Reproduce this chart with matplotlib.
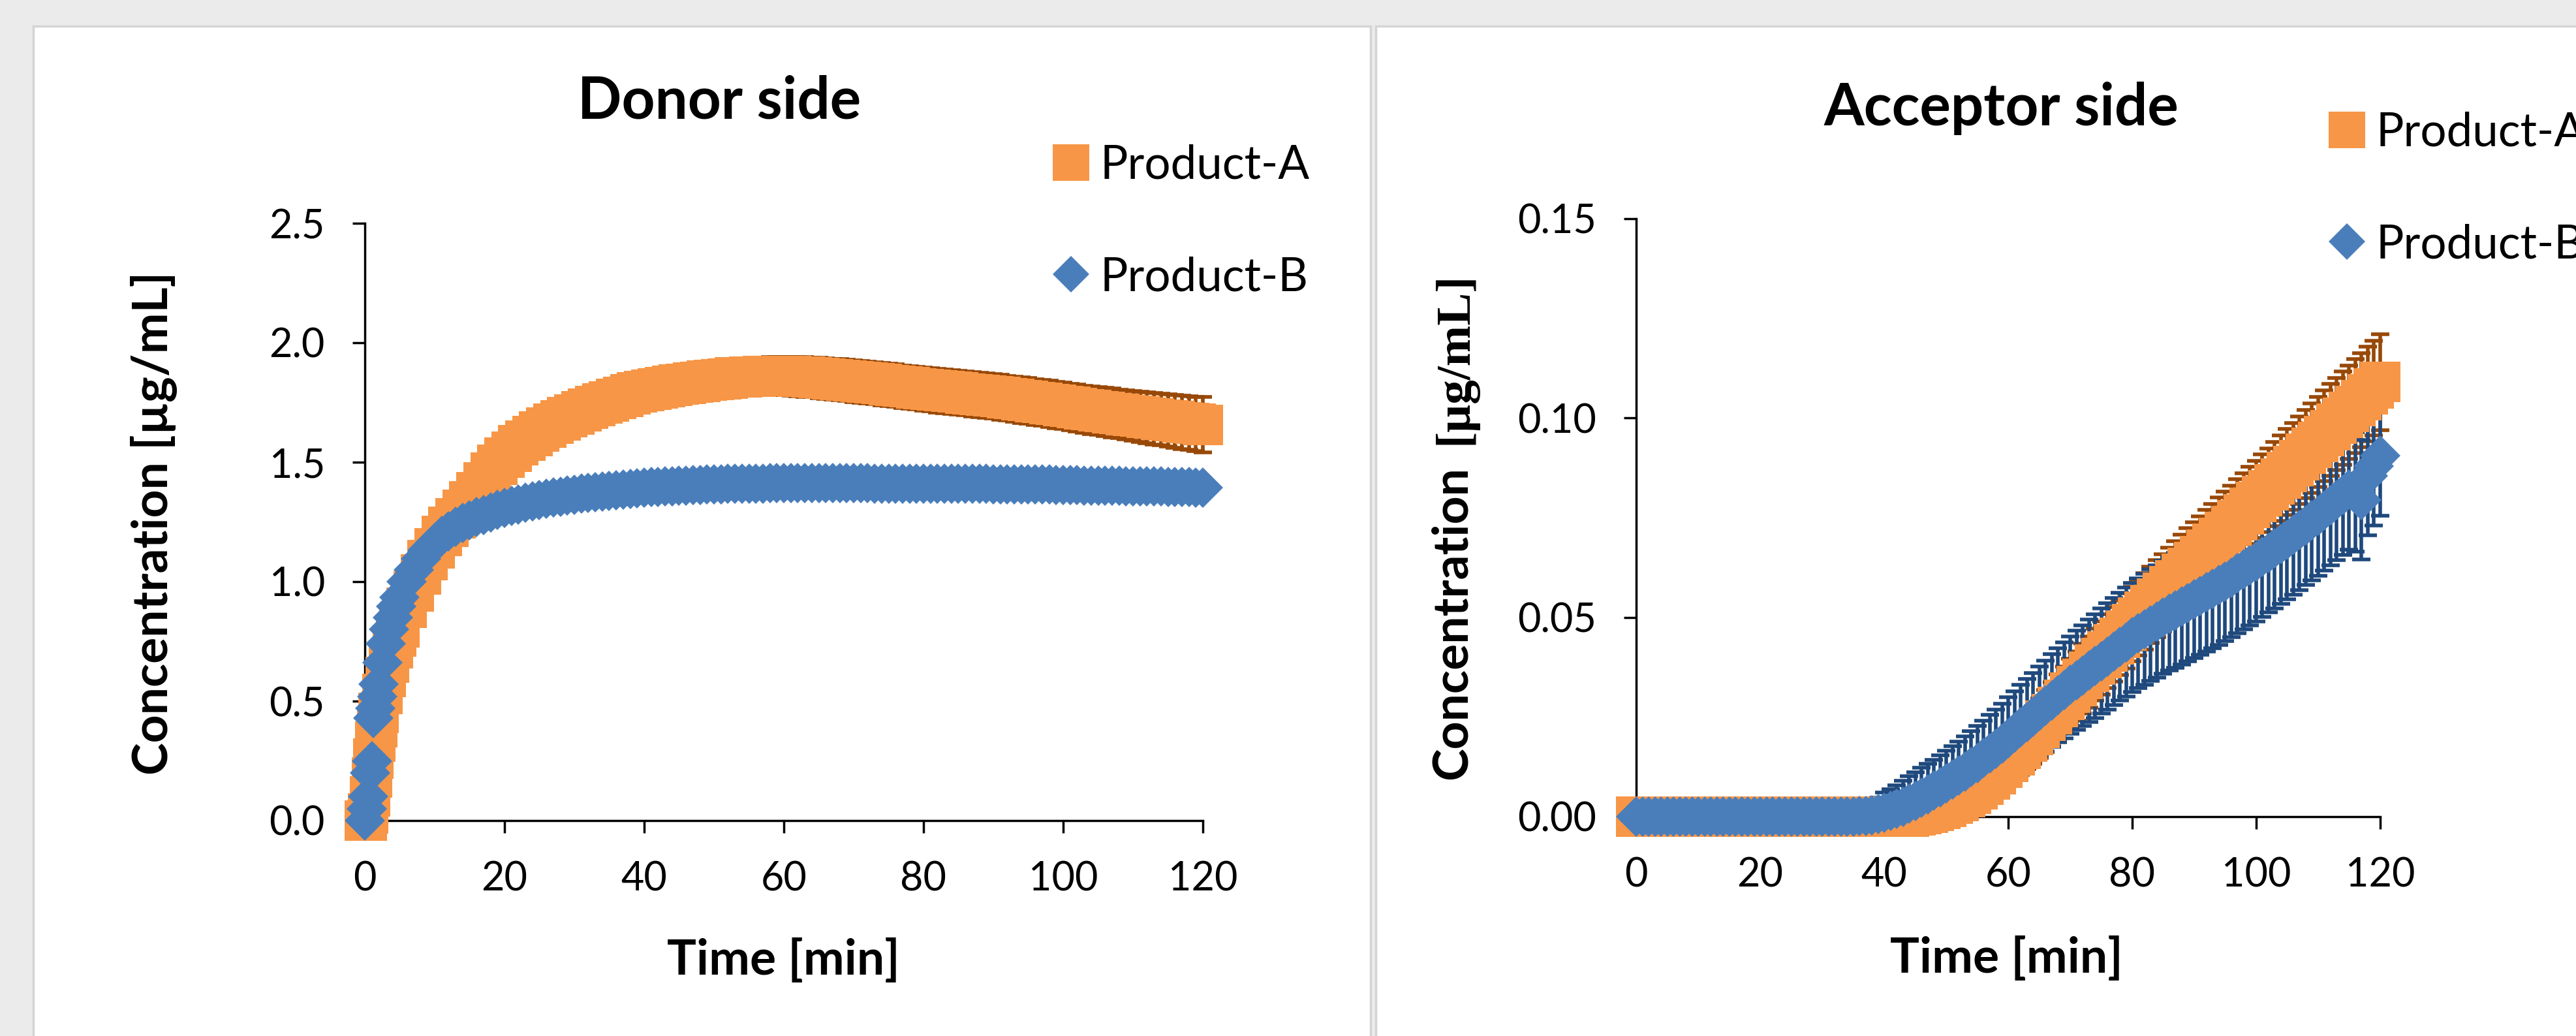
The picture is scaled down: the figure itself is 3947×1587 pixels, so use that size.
"""Donor / acceptor side concentration-time profiles for Product-A and Product-B."""
import matplotlib
matplotlib.use("Agg")
import matplotlib.pyplot as plt
import numpy as np
from matplotlib.patches import Rectangle
from matplotlib.ticker import FormatStrFormatter, MultipleLocator

W, H, DPI = 3948, 1587, 100

ORANGE = "#F79646"
ORANGE_DARK = "#984807"
BLUE = "#4A7EBB"
BLUE_DARK = "#1F497D"

plt.rcParams["font.family"] = ["Lato", "DejaVu Sans"]

# --- donor side [ug/mL]; finer sampling over the first five minutes ---
DONOR_TIME = [0, 0.25, 0.5, 0.75, 1, 1.25, 1.5, 1.75, 2, 2.5, 3, 3.5, 4, 4.5] + list(range(5, 121))
DONOR_A = [
    0.000, 0.000, 0.030, 0.100, 0.180, 0.260, 0.330, 0.390, 0.450, 0.530,
    0.600, 0.660, 0.720, 0.770,
    0.810, 0.890, 0.960, 1.030, 1.090,
    1.140, 1.190, 1.230, 1.265, 1.300, 1.335, 1.375, 1.415, 1.455, 1.490,
    1.520, 1.545, 1.570, 1.590, 1.610, 1.628, 1.645, 1.660, 1.675, 1.688,
    1.700, 1.712, 1.723, 1.734, 1.745, 1.755, 1.765, 1.774, 1.783, 1.791,
    1.798, 1.804, 1.810, 1.815, 1.820, 1.825, 1.829, 1.833, 1.837, 1.841,
    1.845, 1.848, 1.851, 1.854, 1.856, 1.858, 1.859, 1.860, 1.861, 1.861,
    1.861, 1.860, 1.859, 1.857, 1.855, 1.853, 1.850, 1.848, 1.845, 1.842,
    1.839, 1.836, 1.833, 1.830, 1.827, 1.823, 1.820, 1.816, 1.813, 1.810,
    1.806, 1.803, 1.800, 1.797, 1.794, 1.791, 1.788, 1.785, 1.782, 1.779,
    1.776, 1.772, 1.768, 1.764, 1.760, 1.756, 1.752, 1.748, 1.744, 1.740,
    1.736, 1.731, 1.727, 1.722, 1.718, 1.714, 1.710, 1.706, 1.702, 1.698,
    1.694, 1.690, 1.686, 1.682, 1.678, 1.675, 1.671, 1.667, 1.664, 1.660,
    1.656,
]
DONOR_A_SD = [
    0.000, 0.010, 0.015, 0.020, 0.020, 0.025, 0.025, 0.030, 0.030, 0.030,
    0.030, 0.030, 0.030, 0.035,
    0.035, 0.035, 0.040, 0.040, 0.040,
    0.045, 0.045, 0.045, 0.050, 0.050, 0.050, 0.050, 0.050, 0.055, 0.055,
    0.055, 0.055, 0.055, 0.055, 0.060, 0.060, 0.060, 0.060, 0.060, 0.060,
    0.060, 0.062, 0.062, 0.063, 0.063, 0.064, 0.064, 0.065, 0.065, 0.066,
    0.066, 0.067, 0.067, 0.068, 0.068, 0.069, 0.069, 0.070, 0.070, 0.071,
    0.071, 0.072, 0.073, 0.074, 0.075, 0.076, 0.077, 0.078, 0.079, 0.080,
    0.080, 0.081, 0.082, 0.083, 0.083, 0.084, 0.085, 0.085, 0.086, 0.086,
    0.087, 0.087, 0.088, 0.088, 0.088, 0.089, 0.089, 0.089, 0.090, 0.090,
    0.090, 0.091, 0.091, 0.091, 0.092, 0.092, 0.092, 0.093, 0.093, 0.093,
    0.094, 0.094, 0.094, 0.095, 0.095, 0.096, 0.096, 0.096, 0.097, 0.097,
    0.098, 0.098, 0.099, 0.099, 0.100, 0.100, 0.101, 0.102, 0.102, 0.103,
    0.104, 0.105, 0.106, 0.107, 0.108, 0.109, 0.110, 0.111, 0.112, 0.114,
    0.116,
]
DONOR_B = [
    0.000, 0.050, 0.100, 0.200, 0.250, 0.430, 0.470, 0.520, 0.570, 0.660,
    0.740, 0.800, 0.850, 0.895,
    0.935, 1.000, 1.050, 1.095, 1.130,
    1.160, 1.190, 1.210, 1.230, 1.245, 1.258, 1.270, 1.280, 1.290, 1.300,
    1.308, 1.316, 1.323, 1.330, 1.336, 1.342, 1.347, 1.352, 1.356, 1.360,
    1.364, 1.368, 1.371, 1.374, 1.377, 1.380, 1.383, 1.386, 1.388, 1.391,
    1.393, 1.395, 1.397, 1.399, 1.400, 1.402, 1.403, 1.404, 1.405, 1.406,
    1.407, 1.408, 1.409, 1.409, 1.410, 1.410, 1.411, 1.411, 1.412, 1.412,
    1.412, 1.412, 1.412, 1.412, 1.412, 1.412, 1.412, 1.412, 1.412, 1.412,
    1.412, 1.412, 1.412, 1.411, 1.411, 1.411, 1.411, 1.411, 1.411, 1.411,
    1.411, 1.410, 1.410, 1.410, 1.410, 1.410, 1.409, 1.409, 1.409, 1.409,
    1.408, 1.408, 1.408, 1.407, 1.407, 1.407, 1.406, 1.406, 1.406, 1.405,
    1.405, 1.404, 1.404, 1.403, 1.403, 1.402, 1.402, 1.401, 1.401, 1.400,
    1.400, 1.399, 1.399, 1.398, 1.398, 1.397, 1.396, 1.396, 1.395, 1.394,
    1.393,
]
DONOR_B_SD = [0.0] + [0.035] * 129

# --- acceptor side [ug/mL], one reading per minute ---
ACCEPTOR_TIME = list(range(0, 121))
ACCEPTOR_A = [0.0] * 45 + [
    0.0003, 0.0006, 0.0010, 0.0014, 0.0019,
    0.0025, 0.0032, 0.0040, 0.0049, 0.0058, 0.0068, 0.0080, 0.0093, 0.0107, 0.0122,
    0.0138, 0.0154, 0.0171, 0.0188, 0.0205, 0.0222, 0.0240, 0.0257, 0.0275, 0.0293,
    0.0311, 0.0328, 0.0346, 0.0363, 0.0381, 0.0398, 0.0415, 0.0432, 0.0449, 0.0466,
    0.0483, 0.0499, 0.0515, 0.0531, 0.0547, 0.0562, 0.0578, 0.0593, 0.0609, 0.0624,
    0.0639, 0.0654, 0.0669, 0.0684, 0.0699, 0.0714, 0.0729, 0.0744, 0.0759, 0.0774,
    0.0789, 0.0804, 0.0819, 0.0834, 0.0849, 0.0864, 0.0879, 0.0894, 0.0910, 0.0925,
    0.0940, 0.0955, 0.0970, 0.0985, 0.1000, 0.1015, 0.1030, 0.1045, 0.1060, 0.1075,
    0.1090,
]
ACCEPTOR_A_SD = [0.0] * 45 + [
    0.0010, 0.0013, 0.0016, 0.0020, 0.0023,
    0.0027, 0.0031, 0.0035, 0.0039, 0.0043, 0.0047, 0.0050, 0.0053, 0.0056, 0.0058,
    0.0060, 0.0063, 0.0066, 0.0069, 0.0072, 0.0075, 0.0078, 0.0080, 0.0082, 0.0084,
    0.0086, 0.0087, 0.0088, 0.0089, 0.0090, 0.0091, 0.0092, 0.0093, 0.0093, 0.0094,
    0.0094, 0.0095, 0.0095, 0.0096, 0.0096, 0.0097, 0.0097, 0.0098, 0.0098, 0.0099,
    0.0099, 0.0100, 0.0100, 0.0101, 0.0101, 0.0102, 0.0102, 0.0103, 0.0103, 0.0104,
    0.0104, 0.0105, 0.0105, 0.0106, 0.0107, 0.0108, 0.0109, 0.0110, 0.0111, 0.0112,
    0.0113, 0.0114, 0.0115, 0.0116, 0.0117, 0.0117, 0.0118, 0.0118, 0.0119, 0.0119,
    0.0120,
]
ACCEPTOR_B = [0.0] * 36 + [
    0.0001, 0.0002, 0.0004, 0.0007,
    0.0010, 0.0014, 0.0019, 0.0025, 0.0032, 0.0040, 0.0048, 0.0056, 0.0065, 0.0074,
    0.0083, 0.0093, 0.0103, 0.0113, 0.0124, 0.0135, 0.0147, 0.0159, 0.0171, 0.0184,
    0.0197, 0.0211, 0.0224, 0.0238, 0.0251, 0.0265, 0.0278, 0.0291, 0.0304, 0.0317,
    0.0330, 0.0342, 0.0354, 0.0366, 0.0378, 0.0390, 0.0402, 0.0414, 0.0426, 0.0438,
    0.0450, 0.0460, 0.0470, 0.0480, 0.0490, 0.0500, 0.0509, 0.0518, 0.0527, 0.0536,
    0.0545, 0.0554, 0.0563, 0.0572, 0.0581, 0.0590, 0.0600, 0.0610, 0.0620, 0.0630,
    0.0640, 0.0651, 0.0662, 0.0673, 0.0684, 0.0695, 0.0707, 0.0719, 0.0731, 0.0743,
    0.0755, 0.0768, 0.0781, 0.0794, 0.0807, 0.0820, 0.0815, 0.0795, 0.0855, 0.0880,
    0.0905,
]
ACCEPTOR_B_SD = [0.0] * 36 + [
    0.0010, 0.0020, 0.0030, 0.0040,
    0.0050, 0.0055, 0.0060, 0.0065, 0.0070, 0.0072, 0.0074, 0.0076, 0.0078, 0.0080,
    0.0082, 0.0084, 0.0086, 0.0088, 0.0090, 0.0092, 0.0094, 0.0096, 0.0098, 0.0100,
    0.0102, 0.0104, 0.0106, 0.0108, 0.0110, 0.0112, 0.0114, 0.0116, 0.0118, 0.0120,
    0.0122, 0.0124, 0.0126, 0.0128, 0.0130, 0.0132, 0.0133, 0.0134, 0.0135, 0.0136,
    0.0137, 0.0138, 0.0139, 0.0140, 0.0141, 0.0142, 0.0143, 0.0144, 0.0145, 0.0146,
    0.0147, 0.0148, 0.0149, 0.0150, 0.0150, 0.0150, 0.0150, 0.0150, 0.0150, 0.0150,
    0.0150, 0.0150, 0.0150, 0.0150, 0.0150, 0.0150, 0.0150, 0.0150, 0.0150, 0.0150,
    0.0150, 0.0150, 0.0150, 0.0150, 0.0150, 0.0150, 0.0150, 0.0150, 0.0150, 0.0150,
    0.0150,
]

SERIES_LABELS = ["Product-A", "Product-B"]
X_TICKS = [0, 20, 40, 60, 80, 100, 120]


def fx(px):
    return px / W


def fy(py):
    return 1 - py / H


def add_panel(fig, x0, x1):
    rect = Rectangle((fx(x0), -0.02), (x1 - x0) / W, fy(40) + 0.02,
                     transform=fig.transFigure, facecolor="white",
                     edgecolor="#D4D4D4", linewidth=2.5, zorder=-10)
    fig.add_artist(rect)


def draw_series(ax, t, a, a_sd, b, b_sd):
    for vals, sd, col in ((a, a_sd, ORANGE_DARK), (b, b_sd, BLUE_DARK)):
        eb = ax.errorbar(t, vals, yerr=sd, fmt="none", ecolor=col,
                         elinewidth=4.0, capsize=10, capthick=4.0, zorder=2.8)
        for art in list(eb.lines[1]) + list(eb.lines[2]):
            art.set_clip_on(False)
    la, = ax.plot(t, a, linestyle="none", marker="s", ms=44.6,
                  color=ORANGE, mew=0, clip_on=False, zorder=3)
    lb, = ax.plot(t, b, linestyle="none", marker="D", ms=31.6,
                  color=BLUE, mew=0, clip_on=False, zorder=3.1)
    return la, lb


def style_axes(ax, ymax, ystep, yfmt):
    ax.set_facecolor("none")
    ax.set_xlim(0, 120)
    ax.set_ylim(0, ymax)
    ax.set_xticks(X_TICKS)
    ax.yaxis.set_major_locator(MultipleLocator(ystep))
    ax.yaxis.set_major_formatter(FormatStrFormatter(yfmt))
    for side in ("top", "right"):
        ax.spines[side].set_visible(False)
    for side in ("left", "bottom"):
        ax.spines[side].set_linewidth(2.5)
        ax.spines[side].set_color("black")
    ax.tick_params(direction="out", length=14, width=2.5, labelsize=44,
                   pad=30, colors="black")


fig = plt.figure(figsize=(W / DPI, H / DPI), dpi=DPI)
fig.patch.set_facecolor("#EBEBEB")
add_panel(fig, 51, 2100)
add_panel(fig, 2108, 3990)

# donor side
ax1 = fig.add_axes([fx(559), fy(1257), (1843 - 559) / W, (1257 - 342) / H])
h1 = draw_series(ax1, DONOR_TIME, DONOR_A, DONOR_A_SD, DONOR_B, DONOR_B_SD)
style_axes(ax1, 2.5, 0.5, "%.1f")

# acceptor side
ax2 = fig.add_axes([fx(2507), fy(1251), (3647 - 2507) / W, (1251 - 335) / H])
h2 = draw_series(ax2, ACCEPTOR_TIME, ACCEPTOR_A, ACCEPTOR_A_SD, ACCEPTOR_B, ACCEPTOR_B_SD)
style_axes(ax2, 0.15, 0.05, "%.2f")

for ax, handles, (lx, ly) in ((ax1, h1, (1606, 221)), (ax2, h2, (3561, 171))):
    ax.legend(handles, SERIES_LABELS, loc="upper left",
              bbox_to_anchor=(fx(lx), fy(ly)), bbox_transform=fig.transFigure,
              frameon=False, fontsize=51, handlelength=1.0, handletextpad=0.12,
              labelspacing=1.5, borderpad=0, borderaxespad=0,
              markerscale=0.89, numpoints=1)

title_kw = dict(ha="center", va="baseline", fontsize=64, fontweight="bold")
fig.text(fx(1102), fy(182), "Donor side", **title_kw)
fig.text(fx(3066), fy(192), "Acceptor side", **title_kw)

label_kw = dict(ha="center", va="baseline", fontsize=54, fontweight="bold")
fig.text(fx(1200), fy(1493), "Time [min]", **label_kw)
fig.text(fx(3074), fy(1490), "Time [min]", **label_kw)
fig.text(fx(257), fy(801), "Concentration [µg/mL]", rotation=90,
         rotation_mode="anchor", **label_kw)

# acceptor y label: sans part plus serif unit part
t1 = fig.text(fx(2247), 0.5, "Concentration", rotation=90, rotation_mode="anchor",
              ha="left", va="baseline", fontsize=54, fontweight="bold")
t2 = fig.text(fx(2247), 0.5, "[µg/mL]", rotation=90, rotation_mode="anchor",
              ha="left", va="baseline", fontsize=54, fontweight="bold",
              family=["Liberation Serif", "DejaVu Serif"])
renderer = fig.canvas.get_renderer()
len1 = t1.get_window_extent(renderer).height
len2 = t2.get_window_extent(renderer).height
gap = 33
start = H - (805 + (len1 + gap + len2) / 2)
t1.set_position((fx(2247), start / H))
t2.set_position((fx(2247), (start + len1 + gap) / H))

fig.savefig("out.png", dpi=DPI, facecolor=fig.get_facecolor())
